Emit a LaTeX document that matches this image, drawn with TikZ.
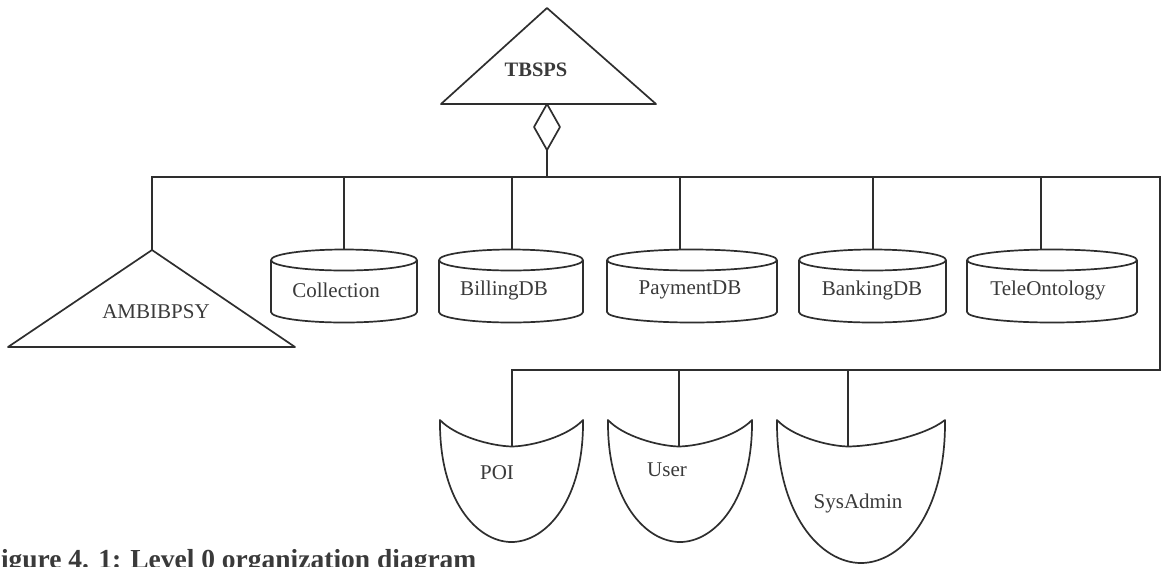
\documentclass[tikz,border=0pt]{standalone}
\usepackage{fontspec}
\setmainfont{Liberation Serif}
\definecolor{ink}{HTML}{2E2E2E}
\definecolor{txt}{HTML}{3A3A3A}

% Database store: name, centre x, width, label x, connector x, label
\newcommand\dbstore[6]{%
  \pgfmathsetmacro\dbL{#2-#3/2}%
  \pgfmathsetmacro\dbR{#2+#3/2}%
  \pgfmathsetmacro\dbrx{#3/2}%
  \pgfmathsetmacro\dbk{0.5523*#3/2}%
  \draw[shapeline] (\dbL,260) -- (\dbL,312)
     .. controls (\dbL,317.8) and (#2-\dbk,322.5) .. (#2,322.5)
     .. controls (#2+\dbk,322.5) and (\dbR,317.8) .. (\dbR,312) -- (\dbR,260);
  \draw[shapeline] (#2,260) ellipse [x radius=\dbrx, y radius=10.5];
  \node[lbl] (#1) at (#4,290) {#6};
  \coordinate (#1-top) at (#5,249.5);
}

% Organisational unit (shield): name, left, right, top, dip x, bottom, label x, label y, label
\newcommand\unitshape[9]{%
  \pgfmathsetmacro\uc{(#2+#3)/2}%
  \pgfmathsetmacro\uw{#3-#2}%
  \pgfmathsetmacro\uh{#6-#4}%
  \draw[shapeline] (#2,#4)
     .. controls ({#2+0.21*(#5-#2)},{#4+16}) and ({#5-0.3*(#5-#2)},{#4+26}) .. (#5,{#4+26.5})
     .. controls ({#5+0.3*(#3-#5)},{#4+26}) and ({#3-0.21*(#3-#5)},{#4+16}) .. (#3,#4)
     .. controls ({#3+1},{#4+0.66*\uh}) and ({\uc+0.24*\uw},#6) .. (\uc,#6)
     .. controls ({\uc-0.24*\uw},#6) and ({#2-1},{#4+0.66*\uh}) .. (#2,#4) -- cycle;
  \node[lbl] (#1) at (#7,#8) {#9};
  \coordinate (#1-top) at (#5,{#4+26.5});
}

\tikzset{
  shapeline/.style={draw=ink, line width=1.7pt, line join=round},
  wire/.style={draw=ink, line width=1.7pt},
  lbl/.style={text=txt, inner sep=0pt, font=\fontsize{21}{24}\selectfont},
}

\begin{document}
\begin{tikzpicture}[x=1pt, y=-1pt]
\useasboundingbox (0,0) rectangle (1161,566);
\fill[white] (0,0) rectangle (1161,566);

% Top-level system
\draw[shapeline] (547,8) -- (656,104) -- (441,104) -- cycle;
\node[lbl, font=\fontsize{20.5}{24}\selectfont\bfseries] (tbsps) at (536,70) {TBSPS};
\coordinate (tbsps-base) at (547,104);

% Aggregation diamond
\draw[shapeline] (tbsps-base) -- (560,127) -- (547,150) -- (534,127) -- cycle;
\coordinate (agg) at (547,150);

% Sub-system
\draw[shapeline] (152,250) -- (295,347) -- (8,347) -- cycle;
\node[lbl] (ambi) at (156,312) {AMBIBPSY};
\coordinate (ambi-apex) at (152,250);

% Data stores
\dbstore{coll}{344}{146}{336}{344}{Collection}
\dbstore{bill}{511}{144}{504}{512}{BillingDB}
\dbstore{pay}{692}{170}{690}{680}{PaymentDB}
\dbstore{bank}{872.5}{147}{872}{873}{BankingDB}
\dbstore{tele}{1052}{170}{1048}{1041}{TeleOntology}

% Roles
\unitshape{poi}{440}{583}{420}{512}{542}{497}{473}{POI}
\unitshape{user}{608}{752}{420}{679}{542}{667}{470}{User}
\unitshape{sys}{777}{945}{420}{848}{563}{858}{503}{SysAdmin}

% Bus lines
\coordinate (busTL) at (152,177);
\coordinate (busTR) at (1160,177);
\coordinate (busBR) at (1160,370);
\coordinate (busBL) at (512,370);

\draw[wire] (ambi-apex) -- (busTL) -- (busTR) -- (busBR) -- (busBL) -- (poi-top);
\draw[wire] (agg) -- (agg |- busTL);
\foreach \n in {coll,bill,pay,bank,tele}
  \draw[wire] (\n-top) -- (\n-top |- busTL);
\foreach \n in {user,sys}
  \draw[wire] (\n-top) -- (\n-top |- busBL);

% Caption
\node[anchor=base west, inner sep=0pt, text=txt,
      font=\fontsize{27.5}{31}\selectfont\bfseries] (caption) at (-16,568.5)
  {Figure 4. 1: Level 0 organization diagram};
\end{tikzpicture}
\end{document}
